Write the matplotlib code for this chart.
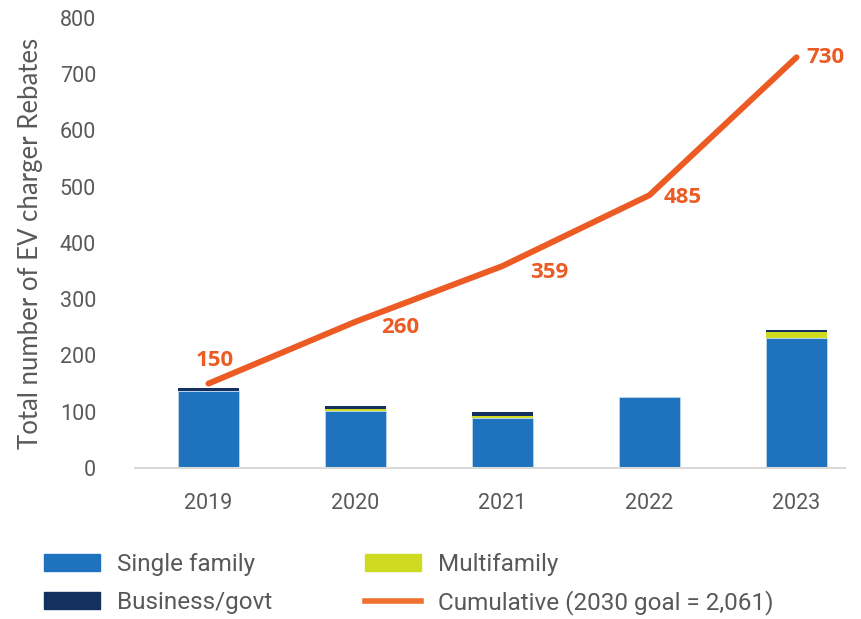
import matplotlib
import matplotlib.pyplot as plt
import numpy as np
from matplotlib.patches import Patch
from matplotlib.lines import Line2D

matplotlib.rcParams.update({'font.family': ['Lato', 'DejaVu Sans']})

years = ['2019', '2020', '2021', '2022', '2023']
single = [137, 101, 89, 126, 231]
multi = [0, 3, 3, 0, 11]
business = [5, 6, 7, 0, 3]
cumulative = [150, 260, 359, 485, 730]

c_single = '#1F73BE'
c_multi = '#CEDB21'
c_bus = '#13305E'
c_line = '#EC5B24'
c_text = '#595959'

x = np.arange(len(years))
single = np.array(single)
multi = np.array(multi)
business = np.array(business)

f = plt.figure(figsize=(8.62, 6.19), dpi=100)
ax = f.add_axes([0.1566, 0.244, 0.8237, 0.727])

w = 0.41
ax.bar(x, single, w, color=c_single, edgecolor='#BFD6EC', linewidth=0.6, zorder=2)
ax.bar(x, multi, w, bottom=single, color=c_multi, zorder=2)
ax.bar(x, business, w, bottom=single + multi, color=c_bus, zorder=2)
ax.plot(x, cumulative, color=c_line, lw=4.3, solid_capstyle='round', zorder=3)

offsets = [(6, 23, 'center'), (45, -6, 'center'), (47, -6, 'center'),
           (33, -2, 'center'), (10, 0, 'left')]
for xi, v, (dx, dy, ha) in zip(x, cumulative, offsets):
    ax.annotate(str(v), (xi, v), xytext=(dx, dy), textcoords='offset pixels',
                ha=ha, va='center', color=c_line, fontsize=16, fontweight='bold',
                family=['Open Sans', 'DejaVu Sans'])

ax.set_xlim(-0.5, 4.33)
ax.set_ylim(0, 800)
ax.set_yticks(range(0, 801, 100))
ax.set_xticks(x)
ax.set_xticklabels(years)
ax.tick_params(axis='both', length=0, colors=c_text, labelsize=15.5)
ax.tick_params(axis='y', pad=28)
ax.tick_params(axis='x', pad=18)
for lab in ax.get_xticklabels() + ax.get_yticklabels():
    lab.set_family(['Roboto', 'DejaVu Sans'])
for s in ['top', 'right', 'left']:
    ax.spines[s].set_visible(False)
ax.spines['bottom'].set_color('#D9D9D9')
ax.spines['bottom'].set_linewidth(1.5)
ax.set_ylabel('Total number of EV charger Rebates', fontsize=18.5, color=c_text, labelpad=12)

handles = [Patch(color=c_single, label='Single family'),
           Patch(color=c_bus, label='Business/govt'),
           Patch(color=c_multi, label='Multifamily'),
           Line2D([], [], color='#F07030', lw=4, label='Cumulative (2030 goal = 2,061)')]
leg = f.legend(handles=handles, ncol=2, loc='upper left', bbox_to_anchor=(0.026, 0.142),
               frameon=False, fontsize=17.5, handlelength=2.3, handleheight=0.7,
               handletextpad=0.7, columnspacing=3.8, labelspacing=0.6)
for t in leg.get_texts():
    t.set_color(c_text)
    t.set_family(['Roboto', 'DejaVu Sans'])

f.savefig('out.png', dpi=100)
